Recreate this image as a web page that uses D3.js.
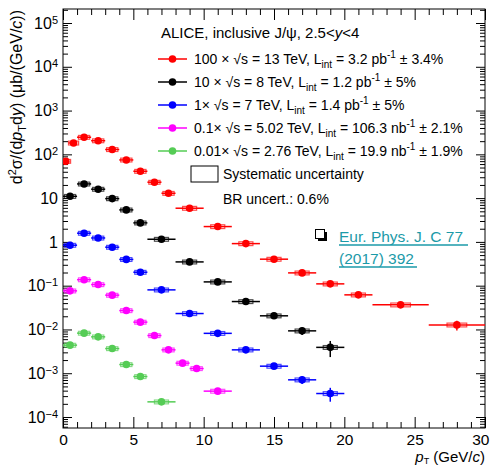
<!DOCTYPE html>
<html>
<head>
<meta charset="utf-8">
<script src="https://cdn.jsdelivr.net/npm/d3@7"></script>
<style>
  body { margin: 0; background: #fff; }
  text { font-family: "Liberation Sans", Arial, sans-serif; }
</style>
</head>
<body>
<svg id="chart" width="491" height="468"></svg>
<script>
// values as plotted (already multiplied by the legend scale factor), ub/(GeV/c)
// 13 TeV x100
var pt13   = [0.2, 0.75, 1.5, 2.5, 3.5, 4.5, 5.5, 6.5, 7.5, 9, 11, 13, 15, 17, 19, 21, 24, 28];
var lo13   = [0, 0.4, 1, 2, 3, 4, 5, 6, 7, 8, 10, 12, 14, 16, 18, 20, 22, 26];
var hi13   = [0.4, 1, 2, 3, 4, 5, 6, 7, 8, 10, 12, 14, 16, 18, 20, 22, 26, 30];
var val13  = [69.5, 182, 246, 205, 129, 74.5, 41.1, 23.1, 12.9, 5.88, 2.24, 0.914, 0.403, 0.196, 0.110, 0.0617, 0.0365, 0.0127];
var stat13 = [0.04, 0.03, 0.02, 0.02, 0.02, 0.02, 0.02, 0.03, 0.03, 0.03, 0.04, 0.05, 0.06, 0.08, 0.1, 0.12, 0.15, 0.25];
// 8 TeV x10
var pt8   = [0.5, 1.5, 2.5, 3.5, 4.5, 5.5, 7, 9, 11, 13, 15, 17, 19];
var lo8   = [0, 1, 2, 3, 4, 5, 6, 8, 10, 12, 14, 16, 18];
var hi8   = [1, 2, 3, 4, 5, 6, 8, 10, 12, 14, 16, 18, 20];
var val8  = [11.0, 21.1, 16.0, 9.74, 5.38, 2.72, 1.15, 0.349, 0.122, 0.0434, 0.0205, 0.00929, 0.0039];
var stat8 = [0.03, 0.02, 0.02, 0.02, 0.03, 0.03, 0.04, 0.05, 0.07, 0.1, 0.13, 0.2, 0.4];
// 7 TeV x1
var pt7   = [0.5, 1.5, 2.5, 3.5, 4.5, 5.5, 7, 9, 11, 13, 15, 17, 19];
var lo7   = [0, 1, 2, 3, 4, 5, 6, 8, 10, 12, 14, 16, 18];
var hi7   = [1, 2, 3, 4, 5, 6, 8, 10, 12, 14, 16, 18, 20];
var val7  = [0.841, 1.58, 1.23, 0.757, 0.398, 0.203, 0.0802, 0.0231, 0.00815, 0.00342, 0.00145, 0.000707, 0.000344];
var stat7 = [0.03, 0.02, 0.02, 0.02, 0.03, 0.03, 0.04, 0.05, 0.07, 0.1, 0.13, 0.2, 0.35];
// 5.02 TeV x0.1
var pt5   = [0.5, 1.5, 2.5, 3.5, 4.5, 5.5, 6.5, 7.5, 8.5, 9.5, 11];
var lo5   = [0, 1, 2, 3, 4, 5, 6, 7, 8, 9, 10];
var hi5   = [1, 2, 3, 4, 5, 6, 7, 8, 9, 10, 12];
var val5  = [0.0761, 0.137, 0.106, 0.0607, 0.0270, 0.0147, 0.00726, 0.00342, 0.00170, 0.00128, 0.00039];
var stat5 = [0.04, 0.03, 0.03, 0.03, 0.04, 0.05, 0.06, 0.08, 0.1, 0.12, 0.15];
// 2.76 TeV x0.01
var pt2   = [0.5, 1.5, 2.5, 3.5, 4.5, 5.5, 7];
var lo2   = [0, 1, 2, 3, 4, 5, 6];
var hi2   = [1, 2, 3, 4, 5, 6, 8];
var val2  = [0.00438, 0.00824, 0.00678, 0.00366, 0.00158, 0.000841, 0.000222];
var stat2 = [0.06, 0.05, 0.05, 0.06, 0.08, 0.1, 0.15];

var sysRel = [0.1, 0.1, 0.1, 0.1, 0.1];

var legendScale = ["100 \u00d7 ", "10 \u00d7 ", "1\u00d7 ", "0.1\u00d7 ", "0.01\u00d7 "];
var legendEnergy = ["13", "8", "7", "5.02", "2.76"];
var legendLumi = ["3.2 pb", "1.2 pb", "1.4 pb", "106.3 nb", "19.9 nb"];
var legendLumiErr = ["3.4%", "5%", "5%", "2.1%", "1.9%"];

var xTicks = [0, 5, 10, 15, 20, 25, 30];

var colors = ["#ff0000", "#000000", "#0000ff", "#ff00ff", "#55cc55"];

var series = [
  {pt: pt13, lo: lo13, hi: hi13, val: val13, stat: stat13},
  {pt: pt8, lo: lo8, hi: hi8, val: val8, stat: stat8},
  {pt: pt7, lo: lo7, hi: hi7, val: val7, stat: stat7},
  {pt: pt5, lo: lo5, hi: hi5, val: val5, stat: stat5},
  {pt: pt2, lo: lo2, hi: hi2, val: val2, stat: stat2}
];

var frame = {left: 63, right: 485, top: 9, bottom: 428};
var svg = d3.select("#chart");

var x = d3.scaleLinear().domain([0, 30]).range([frame.left, frame.right]);
var y = d3.scaleLog().domain([5.61e-5, 2.09e5]).range([frame.bottom, frame.top]);

svg.append("clipPath").attr("id", "plotclip")
  .append("rect")
    .attr("x", frame.left).attr("y", frame.top)
    .attr("width", frame.right - frame.left).attr("height", frame.bottom - frame.top);

// ticks
var minorX = d3.range(0, 31, 1).filter(d => d % 5 != 0);
var powers = d3.range(-4, 6).map(k => Math.pow(10, k));
var minorY = y.ticks().filter(d => Math.abs(Math.log10(d) - Math.round(Math.log10(d))) > 1e-6);

function tickGroup(axis, tx, ty) {
  var g = svg.append("g").attr("transform", "translate(" + tx + "," + ty + ")").call(axis);
  g.select(".domain").remove();
  g.selectAll("line").attr("stroke", "#000").attr("stroke-width", 1);
  return g;
}

// bottom
var gxb = tickGroup(d3.axisBottom(x).tickValues(xTicks).tickSizeInner(-11).tickSizeOuter(0).tickPadding(6), 0, frame.bottom);
gxb.selectAll("text").attr("font-size", 15.5).attr("fill", "#000")
  .attr("font-family", "Liberation Sans, Arial, sans-serif");
gxb.selectAll(".tick").filter(d => d == 30).select("text").attr("text-anchor", "end").attr("x", 4);
tickGroup(d3.axisBottom(x).tickValues(minorX).tickSizeInner(-6).tickSizeOuter(0).tickFormat(""), 0, frame.bottom);
// top
tickGroup(d3.axisBottom(x).tickValues(xTicks).tickSizeInner(11).tickSizeOuter(0).tickFormat(""), 0, frame.top);
tickGroup(d3.axisBottom(x).tickValues(minorX).tickSizeInner(6).tickSizeOuter(0).tickFormat(""), 0, frame.top);
// left
var gyl = tickGroup(d3.axisLeft(y).tickValues(powers).tickSizeInner(-9).tickSizeOuter(0).tickPadding(6), frame.left, 0);
tickGroup(d3.axisLeft(y).tickValues(minorY).tickSizeInner(-5).tickSizeOuter(0).tickFormat(""), frame.left, 0);
// right
tickGroup(d3.axisLeft(y).tickValues(powers).tickSizeInner(9).tickSizeOuter(0).tickFormat(""), frame.right, 0);
tickGroup(d3.axisLeft(y).tickValues(minorY).tickSizeInner(5).tickSizeOuter(0).tickFormat(""), frame.right, 0);

gyl.selectAll(".tick text").each(function(d) {
  var k = Math.round(Math.log10(d));
  var t = d3.select(this).text("").attr("font-size", 16).attr("fill", "#000")
    .attr("font-family", "Liberation Sans, Arial, sans-serif").attr("x", -5);
  if (k == 0) t.text("1");
  else if (k == 1) t.text("10");
  else {
    t.append("tspan").text("10");
    t.append("tspan").attr("dy", "-0.45em").attr("font-size", 11)
      .text(k < 0 ? "\u2212" + (-k) : k);
  }
});

// frame
svg.append("rect")
  .attr("x", frame.left).attr("y", frame.top)
  .attr("width", frame.right - frame.left).attr("height", frame.bottom - frame.top)
  .attr("fill", "none").attr("stroke", "#000").attr("stroke-width", 1);

// data
var plot = svg.append("g").attr("clip-path", "url(#plotclip)");
series.forEach(function(s, si) {
  var c = colors[si];
  var g = plot.append("g");
  var idx = d3.range(s.pt.length);
  // syst boxes: width follows bin width
  var half = i => 0.3 + 0.1 * (s.hi[i] - s.lo[i]);
  g.selectAll("rect.sys").data(idx).enter().append("rect")
    .attr("class", "sys")
    .attr("x", i => x(Math.max(0, s.pt[i] - half(i))))
    .attr("width", i => x(s.pt[i] + half(i)) - x(Math.max(0, s.pt[i] - half(i))))
    .attr("y", i => y(s.val[i] * (1 + sysRel[si])))
    .attr("height", i => y(s.val[i] * (1 - sysRel[si])) - y(s.val[i] * (1 + sysRel[si])))
    .attr("fill", "none").attr("stroke", c).attr("stroke-width", 1.2).attr("opacity", 0.7);
  g.selectAll("line.h").data(idx).enter().append("line")
    .attr("x1", i => x(s.lo[i])).attr("x2", i => x(s.hi[i]))
    .attr("y1", i => y(s.val[i])).attr("y2", i => y(s.val[i]))
    .attr("stroke", c).attr("stroke-width", 1.5);
  g.selectAll("line.v").data(idx).enter().append("line")
    .attr("x1", i => x(s.pt[i])).attr("x2", i => x(s.pt[i]))
    .attr("y1", i => y(s.val[i] * (1 + s.stat[i]))).attr("y2", i => y(s.val[i] * (1 - s.stat[i])))
    .attr("stroke", c).attr("stroke-width", 1.5);
  g.selectAll("circle").data(idx).enter().append("circle")
    .attr("cx", i => x(s.pt[i])).attr("cy", i => y(s.val[i]))
    .attr("r", 3.8).attr("fill", c);
});

// y title
var yt = svg.append("text")
  .attr("transform", "translate(22,10) rotate(-90)")
  .attr("text-anchor", "end").attr("font-size", 16).attr("fill", "#000");
yt.append("tspan").text("d");
yt.append("tspan").attr("dy", -6).attr("font-size", 11).text("2");
yt.append("tspan").attr("dy", 6).text("\u03c3/(d");
yt.append("tspan").attr("font-style", "italic").text("p");
yt.append("tspan").attr("dy", 4).attr("font-size", 11).text("T");
yt.append("tspan").attr("dy", -4).text("d");
yt.append("tspan").attr("font-style", "italic").text("y");
yt.append("tspan").text(") (\u03bcb/(GeV/");
yt.append("tspan").attr("font-style", "italic").text("c");
yt.append("tspan").text("))");

// x title
var xt = svg.append("text")
  .attr("x", frame.right).attr("y", 462)
  .attr("text-anchor", "end").attr("font-size", 15).attr("fill", "#000");
xt.append("tspan").attr("font-style", "italic").text("p");
xt.append("tspan").attr("dy", 2).attr("font-size", 9).text("T");
xt.append("tspan").attr("dy", -2).text(" (GeV/");
xt.append("tspan").attr("font-style", "italic").text("c");
xt.append("tspan").text(")");

// legend
var hdr = svg.append("text").attr("x", 161).attr("y", 38).attr("font-size", 15).attr("fill", "#000");
hdr.append("tspan").text("ALICE, inclusive J/\u03c8, 2.5<");
hdr.append("tspan").attr("font-style", "italic").text("y");
hdr.append("tspan").text("<4");

var rowY = [59, 82, 105, 128, 151];
legendEnergy.forEach(function(e, i) {
  var yy = rowY[i];
  svg.append("line").attr("x1", 158).attr("x2", 187).attr("y1", yy).attr("y2", yy)
    .attr("stroke", colors[i]).attr("stroke-width", 1.5);
  svg.append("circle").attr("cx", 172.5).attr("cy", yy).attr("r", 3.8).attr("fill", colors[i]);
  var t = svg.append("text").attr("x", 194).attr("y", yy + 5).attr("font-size", 14).attr("fill", "#000");
  t.append("tspan").text(legendScale[i] + "\u221as = " + e + " TeV, L");
  t.append("tspan").attr("dy", 4).attr("font-size", 10).text("int");
  t.append("tspan").attr("dy", -4).text(" = " + legendLumi[i]);
  t.append("tspan").attr("dy", -6).attr("font-size", 10).text("-1");
  t.append("tspan").attr("dy", 6).text(" \u00b1 " + legendLumiErr[i]);
});

svg.append("rect").attr("x", 191).attr("y", 166).attr("width", 27).attr("height", 16)
  .attr("fill", "none").attr("stroke", "#000").attr("stroke-width", 1);
svg.append("text").attr("x", 223).attr("y", 179).attr("font-size", 14).attr("fill", "#000")
  .text("Systematic uncertainty");
svg.append("text").attr("x", 223).attr("y", 204).attr("font-size", 14).attr("fill", "#000")
  .text("BR uncert.: 0.6%");

// reference link
svg.append("rect").attr("x", 318).attr("y", 232).attr("width", 9).attr("height", 9).attr("fill", "#000");
svg.append("rect").attr("x", 315.5).attr("y", 229.5).attr("width", 9).attr("height", 9)
  .attr("fill", "#fff").attr("stroke", "#000").attr("stroke-width", 1);
var linkColor = "#1b9aa8";
svg.append("text").attr("x", 339).attr("y", 242).attr("font-size", 15.5).attr("fill", linkColor)
  .text("Eur. Phys. J. C 77");
svg.append("line").attr("x1", 339).attr("x2", 468).attr("y1", 245).attr("y2", 245)
  .attr("stroke", linkColor).attr("stroke-width", 1.5);
svg.append("text").attr("x", 339).attr("y", 264).attr("font-size", 15.5).attr("fill", linkColor)
  .text("(2017) 392");
svg.append("line").attr("x1", 339).attr("x2", 417).attr("y1", 267).attr("y2", 267)
  .attr("stroke", linkColor).attr("stroke-width", 1.5);
</script>
</body>
</html>
